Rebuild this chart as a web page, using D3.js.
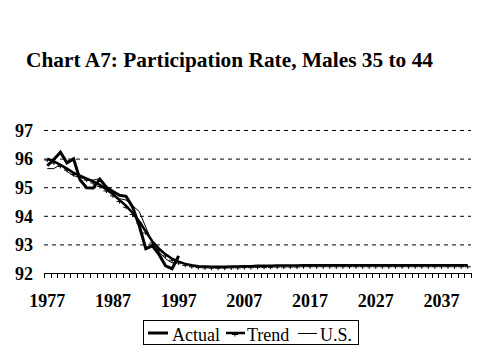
<!DOCTYPE html>
<html><head><meta charset="utf-8">
<script src="https://cdn.jsdelivr.net/npm/d3@7"></script>
<style>body{margin:0;background:#fff}svg{display:block}
svg text{font-family:"Times New Roman","Liberation Serif",Times,serif !important;}</style>
</head><body><svg id="c" width="479" height="359"></svg>
<script>
const title = "Chart A7: Participation Rate, Males 35 to 44";
const years = d3.range(1977, 2042);
const xLabels = [1977, 1987, 1997, 2007, 2017, 2027, 2037];
const yTicks = [92, 93, 94, 95, 96, 97];
const actual = [95.75,95.97,96.22,95.85,95.99,95.25,94.98,94.97,95.28,95.0,94.85,94.72,94.68,94.3,93.65,92.85,92.95,92.65,92.25,92.15,92.6];
const trend = [96.0,95.9,95.78,95.65,95.5,95.4,95.3,95.2,95.08,94.92,94.75,94.55,94.35,94.1,93.8,93.45,93.1,92.85,92.65,92.5,92.4,92.32,92.27,92.24,92.23,92.22,92.22,92.22,92.23,92.23,92.24,92.24,92.25,92.25,92.25,92.26,92.26,92.26,92.26,92.27,92.27,92.27,92.27,92.27,92.27,92.27,92.27,92.27,92.27,92.27,92.27,92.27,92.27,92.27,92.27,92.27,92.27,92.27,92.27,92.27,92.27,92.27,92.27,92.27,92.27];
const us = [95.65,95.65,95.8,95.55,95.4,95.35,95.25,95.25,95.3,94.95,94.75,94.6,94.55,94.35,94.15,93.6,93.05,92.75,92.5,92.35,92.45];
const legendItems = ["Actual", "Trend", "U.S."];

const svg = d3.select("#c");
const x = d3.scaleBand().domain(years).range([44, 471]).paddingInner(0).paddingOuter(0);
const y = d3.scaleLinear().domain([92, 97]).range([273, 130]);
const cx = yr => x(yr) + x.bandwidth() / 2;

svg.append("text").attr("x", 26).attr("y", 67)
  .attr("font-weight", "bold").attr("font-size", 21.5)
  .attr("textLength", 407).attr("lengthAdjust", "spacingAndGlyphs").text(title);

// gridlines
svg.append("g").selectAll("line").data(yTicks.filter(v => v > 92)).join("line")
  .attr("x1", 44).attr("x2", 471).attr("y1", d => y(d) + 0.5).attr("y2", d => y(d) + 0.5)
  .attr("stroke", "#000").attr("stroke-width", 1).attr("stroke-dasharray", "4,4");

// y axis labels
const ya = d3.axisLeft(y).tickValues(yTicks).tickSize(0).tickPadding(0).tickFormat(d3.format("d"));
svg.append("g").attr("transform", "translate(33,0)").call(ya)
  .call(g => g.select(".domain").remove())
  .selectAll("text").attr("font-weight", "bold")
  .attr("font-size", 18).attr("fill", "#000").attr("dy", "0.35em");

// x axis line + boundary ticks
svg.append("line").attr("x1", 44).attr("x2", 471).attr("y1", 273.5).attr("y2", 273.5).attr("stroke", "#000");
const bounds = years.map(d => x(d)).concat([x(years[years.length - 1]) + x.bandwidth()]);
svg.append("g").selectAll("line").data(bounds).join("line")
  .attr("x1", d => Math.round(d) + 0.5).attr("x2", d => Math.round(d) + 0.5)
  .attr("y1", 273).attr("y2", 278).attr("stroke", "#000");

const xa = d3.axisBottom(x).tickValues(xLabels).tickSize(0).tickPadding(0);
svg.append("g").attr("transform", "translate(0,294)").call(xa)
  .call(g => g.select(".domain").remove())
  .selectAll("text").attr("font-weight", "bold")
  .attr("font-size", 18).attr("fill", "#000");

const line = d3.line().x((d, i) => cx(years[i])).y(d => y(d));
svg.append("path").datum(us).attr("d", line).attr("fill", "none").attr("stroke", "#000").attr("stroke-width", 1);
svg.append("path").datum(trend).attr("d", line).attr("fill", "none").attr("stroke", "#000").attr("stroke-width", 2.5);
svg.append("g").selectAll("path").data(trend).join("path")
  .attr("d", (d, i) => `M${cx(years[i])-3},${y(d)+1.5}L${cx(years[i])+3},${y(d)+1.5}M${cx(years[i])},${y(d)}L${cx(years[i])},${y(d)+3.5}`)
  .attr("stroke", "#000").attr("stroke-width", 1);
svg.append("path").datum(actual).attr("d", line).attr("fill", "none").attr("stroke", "#000").attr("stroke-width", 3);

// legend
const lg = svg.append("g");
lg.append("rect").attr("x", 143.5).attr("y", 320.5).attr("width", 215).attr("height", 24)
  .attr("fill", "#fff").attr("stroke", "#000");
const lx = [148, 226, 298], tx = [172, 247, 320];
lg.append("line").attr("x1", lx[0]).attr("x2", lx[0] + 20).attr("y1", 333).attr("y2", 333).attr("stroke", "#000").attr("stroke-width", 3);
lg.append("line").attr("x1", lx[1]).attr("x2", lx[1] + 19).attr("y1", 333).attr("y2", 333).attr("stroke", "#000").attr("stroke-width", 2.5);
lg.append("path").attr("d", `M${lx[1]+6},${334.5}L${lx[1]+12},${334.5}M${lx[1]+9},333L${lx[1]+9},336.5`).attr("stroke", "#000");
lg.append("line").attr("x1", lx[2]).attr("x2", lx[2] + 19).attr("y1", 333.5).attr("y2", 333.5).attr("stroke", "#000").attr("stroke-width", 1);
lg.selectAll("text").data(legendItems).join("text").attr("x", (d, i) => tx[i]).attr("y", 341)
  .attr("font-size", 18).text(d => d);
</script></body></html>
